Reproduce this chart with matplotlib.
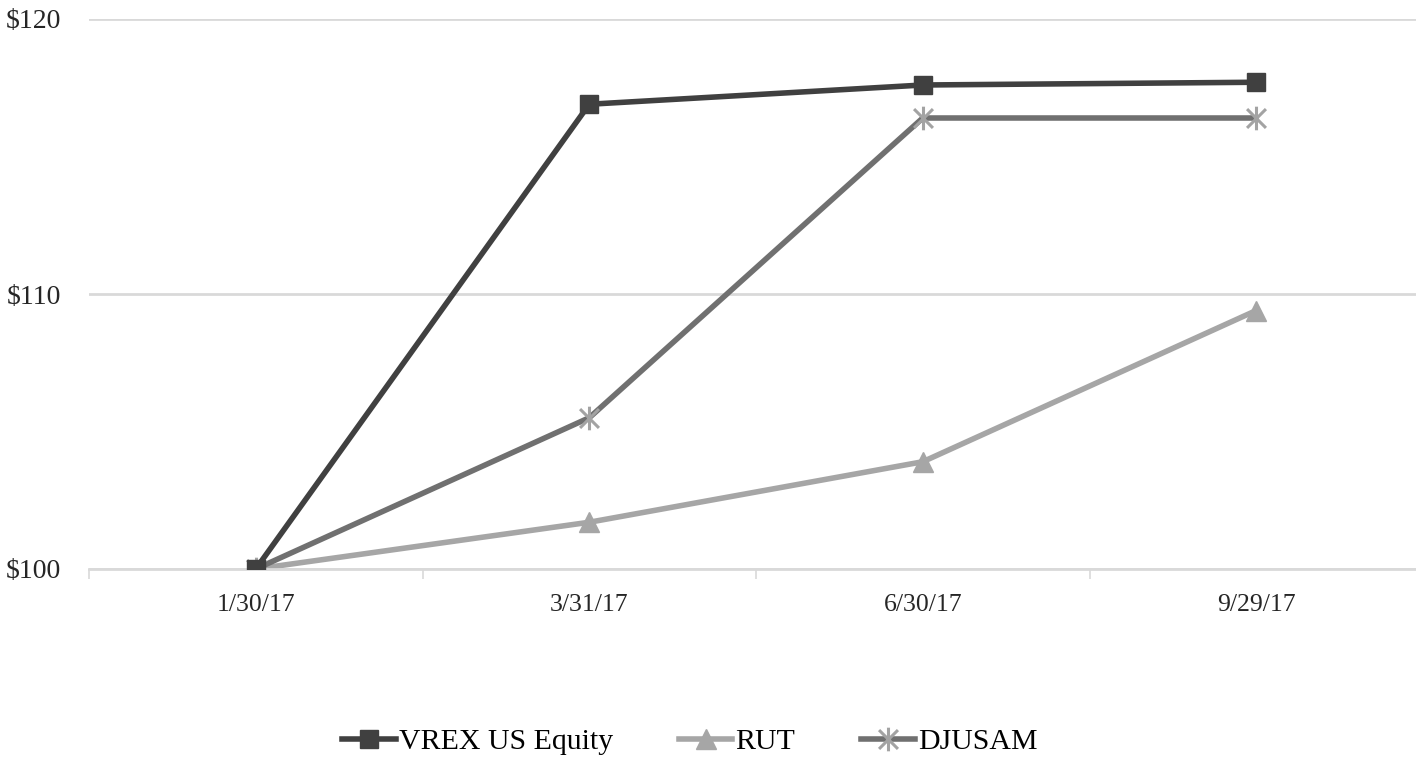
import matplotlib
matplotlib.use("Agg")
import matplotlib.pyplot as plt
import matplotlib.ticker as ticker
from matplotlib.path import Path

plt.rcParams['font.family'] = ['Liberation Serif', 'DejaVu Serif']

dates = ['1/30/17', '3/31/17', '6/30/17', '9/29/17']
vrex = [100.0, 116.9, 117.6, 117.7]
rut = [100.0, 101.7, 103.9, 109.4]
djusam = [100.0, 105.5, 116.4, 116.4]

# asterisk like the Excel one: an X with a vertical bar
star = Path([(0, -1), (0, 1), (-0.8, -0.8), (0.8, 0.8), (-0.8, 0.8), (0.8, -0.8)],
            [Path.MOVETO, Path.LINETO, Path.MOVETO, Path.LINETO, Path.MOVETO, Path.LINETO])

fig = plt.figure(figsize=(14.16, 7.57), dpi=100)
ax = fig.add_axes([89 / 1416, 1 - 569 / 757, 1334 / 1416, 550 / 757])

x = list(range(len(dates)))
ax.plot(x, vrex, color='#404040', lw=4, marker='s', ms=13,
        mfc='#404040', mec='#404040', label='VREX US Equity', zorder=3)
ax.plot(x, rut, color='#a6a6a6', lw=4, marker='^', ms=14,
        mfc='#a6a6a6', mec='#a6a6a6', label='RUT', zorder=2)
ax.plot(x, djusam, color='#707070', lw=4, marker=star, ms=17,
        mfc='none', mec='#a3a3a3', mew=2.2, label='DJUSAM', zorder=2)

ax.set_xlim(-0.5, 3.5)
ax.set_ylim(100, 120)
ax.set_yticks([100, 110, 120])
ax.yaxis.set_major_formatter(ticker.FuncFormatter(lambda v, p: '$%d' % v))
ax.set_xticks(x)
ax.set_xticklabels(dates)
ax.set_xticks([-0.5, 0.5, 1.5, 2.5, 3.5], minor=True)
ax.tick_params(axis='x', which='major', length=0, pad=18, labelsize=18.5)
ax.tick_params(axis='x', which='minor', length=7, width=1.2, color='#d9d9d9')
ax.tick_params(axis='y', length=0, pad=20, labelsize=20)
for lbl in ax.get_yticklabels():
    lbl.set_color('#262626')
for lbl in ax.get_xticklabels():
    lbl.set_color('#262626')

ax.grid(axis='y', color='#d9d9d9', lw=2)
ax.set_axisbelow(True)
for side in ['top', 'right', 'left']:
    ax.spines[side].set_visible(False)
ax.spines['bottom'].set_color('#d9d9d9')
ax.spines['bottom'].set_linewidth(2)

fig.legend(loc='center', bbox_to_anchor=(0.487, 1 - 742 / 757),
           ncol=3, frameon=False, fontsize=21.5, handlelength=1.8,
           handletextpad=0.1, columnspacing=2.2)

fig.savefig('out.png', dpi=100)
